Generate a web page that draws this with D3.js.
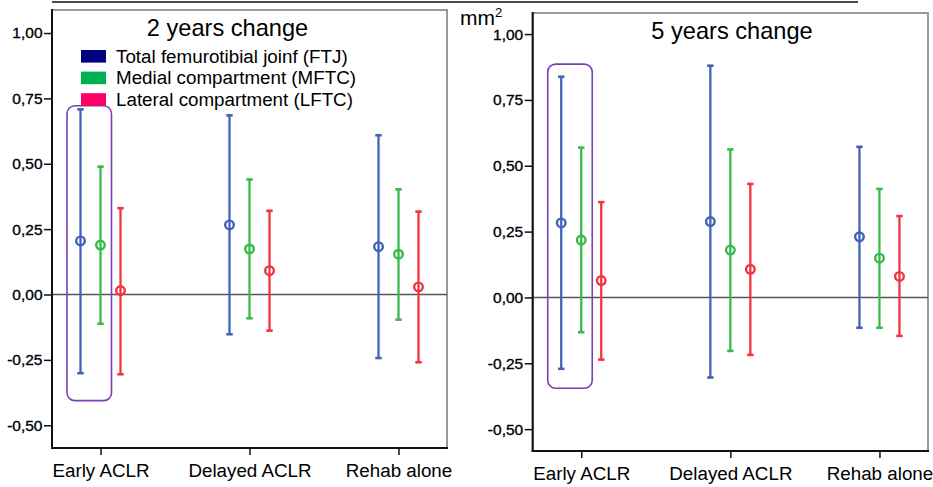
<!DOCTYPE html>
<html>
<head>
<meta charset="utf-8">
<script src="https://cdn.jsdelivr.net/npm/d3@7"></script>
<style>
  html, body { margin: 0; padding: 0; background: #fff; }
  svg { display: block; font-family: "Liberation Sans", Arial, Helvetica, sans-serif; }
</style>
</head>
<body>
<svg id="chart" width="933" height="487"></svg>
<script>
// ---------- DATA ----------
const categories = ["Early ACLR", "Delayed ACLR", "Rehab alone"];
const seriesKeys = ["FTJ", "MFTC", "LFTC"];
const seriesNames = ["Total femurotibial joinf (FTJ)", "Medial compartment (MFTC)", "Lateral compartment (LFTC)"];
const yTicks = [-0.5, -0.25, 0, 0.25, 0.5, 0.75, 1.0];
const panelTitles = ["2 years change", "5 years change"];
const unitLabel = "mm";

// [low, mean, high] per category
const twoYearFTJ  = [[-0.301, 0.205, 0.708], [-0.152, 0.266, 0.685], [-0.243, 0.183, 0.609]];
const twoYearMFTC = [[-0.112, 0.189, 0.489], [-0.091, 0.174, 0.440], [-0.096, 0.154, 0.402]];
const twoYearLFTC = [[-0.305, 0.015, 0.330], [-0.138, 0.091, 0.320], [-0.259, 0.029, 0.317]];

const fiveYearFTJ  = [[-0.271, 0.283, 0.838], [-0.304, 0.288, 0.880], [-0.115, 0.230, 0.572]];
const fiveYearMFTC = [[-0.132, 0.218, 0.569], [-0.203, 0.180, 0.562], [-0.115, 0.149, 0.412]];
const fiveYearLFTC = [[-0.236, 0.064, 0.362], [-0.218, 0.107, 0.431], [-0.146, 0.080, 0.309]];

// highlight box value ranges (around Early ACLR FTJ + MFTC)
const highlight2y = [-0.406, 0.722];
const highlight5y = [-0.345, 0.886];

// ---------- STYLE ----------
const lineColors = { FTJ: "#4262b5", MFTC: "#36bb4a", LFTC: "#f2343f" };
const legendColors = { FTJ: "#000080", MFTC: "#00b050", LFTC: "#ff0066" };

const svg = d3.select("#chart");
const fmt = v => d3.format(".2f")(v).replace(".", ",").replace("−", "-");

// top rule
svg.append("line").attr("x1", 52).attr("x2", 858).attr("y1", 2).attr("y2", 2)
  .attr("stroke", "#111").attr("stroke-width", 1.6);

const panels = [
  { title: panelTitles[0], data: [twoYearFTJ, twoYearMFTC, twoYearLFTC], box: highlight2y,
    x0: 52, x1: 447, y0: 10, y1: 448, domain: [-0.587, 1.088], titleX: 227.5, titleY: 35.5, legend: true },
  { title: panelTitles[1], data: [fiveYearFTJ, fiveYearMFTC, fiveYearLFTC], box: highlight5y,
    x0: 532.7, x1: 928, y0: 13, y1: 451, domain: [-0.583, 1.08], titleX: 732, titleY: 38.5, legend: false }
];

panels.forEach(p => {
  const g = svg.append("g");
  const x = d3.scalePoint().domain(categories).range([p.x0, p.x1]).padding(0.3255);
  const off = d3.scalePoint().domain(seriesKeys).range([-20, 20]);
  const y = d3.scaleLinear().domain(p.domain).range([p.y1, p.y0]);

  // frame (top/right gray)
  g.append("rect").attr("x", p.x0).attr("y", p.y0).attr("width", p.x1 - p.x0).attr("height", p.y1 - p.y0)
    .attr("fill", "none").attr("stroke", "#9a9a9a").attr("stroke-width", 2);

  // zero line
  g.append("line").attr("x1", p.x0).attr("x2", p.x1).attr("y1", y(0)).attr("y2", y(0))
    .attr("stroke", "#555").attr("stroke-width", 1.5);

  // left axis
  const ya = g.append("g").attr("transform", `translate(${p.x0},0)`)
    .call(d3.axisLeft(y).tickValues(yTicks).tickFormat(fmt).tickSize(8).tickSizeOuter(0).tickPadding(1.5));
  ya.select(".domain").remove();
  ya.selectAll(".tick line").attr("stroke", "#111").attr("stroke-width", 1.5);
  ya.selectAll("text").attr("font-size", 15.5).attr("fill", "#000")
    .attr("stroke", "#000").attr("stroke-width", 0.35)
    .attr("font-family", "'Liberation Sans', Arial, sans-serif");
  g.append("line").attr("x1", p.x0).attr("x2", p.x0).attr("y1", p.y0 - 1).attr("y2", p.y1 + 1)
    .attr("stroke", "#111").attr("stroke-width", 2);

  // bottom axis
  const xa = g.append("g").attr("transform", `translate(0,${p.y1})`)
    .call(d3.axisBottom(x).tickSize(7).tickSizeOuter(0).tickPadding(9));
  xa.select(".domain").remove();
  xa.selectAll(".tick line").attr("stroke", "#111").attr("stroke-width", 1.5);
  xa.selectAll("text").attr("font-size", 18.8).attr("fill", "#000")
    .attr("font-family", "'Liberation Sans', Arial, sans-serif");
  g.append("line").attr("x1", p.x0 - 1).attr("x2", p.x1 + 1).attr("y1", p.y1).attr("y2", p.y1)
    .attr("stroke", "#111").attr("stroke-width", 2);

  // error bars
  seriesKeys.forEach((k, si) => {
    const rows = p.data[si].map((d, ci) => ({ cat: categories[ci], low: d[0], mean: d[1], high: d[2] }));
    const sg = g.append("g").attr("stroke", lineColors[k]).attr("fill", "none");
    rows.forEach(r => {
      const cx = x(r.cat) + off(k);
      sg.append("line").attr("x1", cx).attr("x2", cx).attr("y1", y(r.high)).attr("y2", y(r.low))
        .attr("stroke-width", 2.3);
      [r.high, r.low].forEach(v => {
        sg.append("line").attr("x1", cx - 3.2).attr("x2", cx + 3.2).attr("y1", y(v)).attr("y2", y(v))
          .attr("stroke-width", 2.6);
      });
      sg.append("circle").attr("cx", cx).attr("cy", y(r.mean)).attr("r", 4.3).attr("stroke-width", 2.4);
    });
  });

  // highlight box
  const bx0 = x(categories[0]) + off("FTJ") - 13.5;
  const bx1 = x(categories[0]) + off("MFTC") + 11;
  g.append("rect").attr("x", bx0).attr("y", y(p.box[1])).attr("width", bx1 - bx0)
    .attr("height", y(p.box[0]) - y(p.box[1])).attr("rx", 8).attr("ry", 8)
    .attr("fill", "none").attr("stroke", "#7b3fb5").attr("stroke-width", 1.6);

  // title
  g.append("text").attr("x", p.titleX).attr("y", p.titleY).attr("text-anchor", "middle")
    .attr("font-size", 23.6).attr("fill", "#000").text(p.title);

  // legend
  if (p.legend) {
    const lg = g.append("g");
    seriesKeys.forEach((k, i) => {
      const cy = 56.3 + i * 21.6;
      lg.append("rect").attr("x", 81).attr("y", cy - 6.3).attr("width", 25).attr("height", 12.6)
        .attr("fill", legendColors[k]);
      lg.append("text").attr("x", 116).attr("y", cy + 6.5).attr("font-size", 18.8).attr("fill", "#000")
        .text(seriesNames[i]);
    });
  }
});

// unit label
const ut = svg.append("text").attr("x", 460).attr("y", 25).attr("font-size", 21).attr("fill", "#000");
ut.append("tspan").text(unitLabel);
ut.append("tspan").attr("font-size", 13).attr("dy", -8).text("2");
</script>
</body>
</html>
